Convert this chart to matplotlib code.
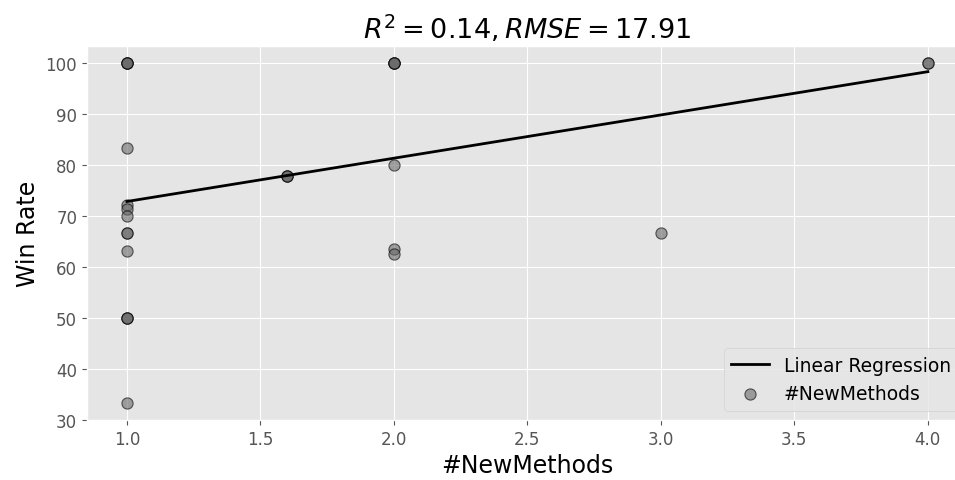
import matplotlib
matplotlib.use('Agg')
import matplotlib.pyplot as plt
import numpy as np

plt.style.use('ggplot')

# number of new methods vs win rate (overlapping points repeated)
new_methods = [1.0] * 15 + [1.6] * 3 + [2.0] * 7 + [3.0] + [4.0] * 2
win_rate = [100.0, 100.0, 100.0, 100.0, 83.33, 72.22, 71.43, 70.0, 66.67, 66.67, 63.16,
            50.0, 50.0, 50.0, 33.33,
            77.78, 77.78, 77.78,
            100.0, 100.0, 100.0, 100.0, 80.0, 63.64, 62.5,
            66.67,
            100.0, 100.0]

x = np.array(new_methods)
y = np.array(win_rate)
slope, intercept = np.polyfit(x, y, 1)
xs = np.sort(np.unique(x))

fig = plt.figure(figsize=(9.55, 4.81), dpi=100)
ax = fig.add_axes([0.091, 0.1245, 0.9225, 0.7775])

ax.plot(xs, slope * xs + intercept, color='black', lw=2, label='Linear Regression')
ax.scatter(x, y, color='dimgray', alpha=0.6, edgecolor='black', s=65, linewidths=0.8,
           label='#NewMethods')

ax.set_title('$R^2 = 0.14, RMSE = 17.91$', fontsize=19.5, color='black')
ax.set_xlabel('#NewMethods', fontsize=17, color='black')
ax.set_ylabel('Win Rate', fontsize=17, color='black')
ax.tick_params(labelsize=12)
ax.set_yticks([30, 40, 50, 60, 70, 80, 90, 100])
ax.legend(loc='lower right', fontsize=13.5)

fig.savefig('out.png', dpi=100)
